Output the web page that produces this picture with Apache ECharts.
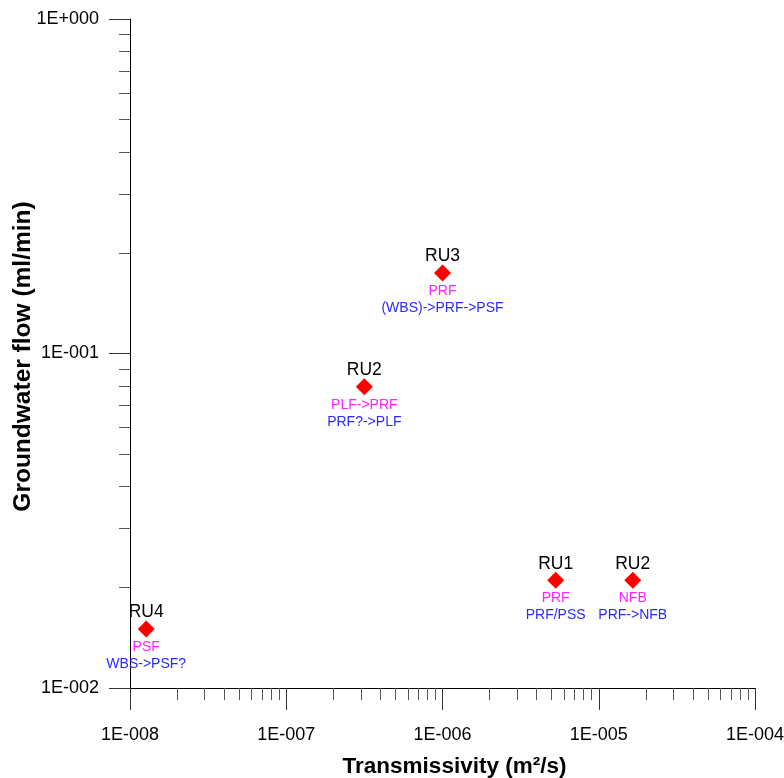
<!DOCTYPE html>
<html>
<head>
<meta charset="utf-8">
<script src="https://cdn.jsdelivr.net/npm/echarts@6/dist/echarts.min.js"></script>
<style>html,body{margin:0;padding:0;background:#fff;}#c{width:784px;height:778px;}</style>
</head>
<body>
<div id="c"></div>
<script>
// ---- data ----
var names = ['RU4', 'RU2', 'RU3', 'RU1', 'RU2'];
var transmissivity = [1.27e-8, 3.16e-7, 1.0e-6, 5.3e-6, 1.65e-5];
var groundwaterFlow = [0.0150, 0.0796, 0.174, 0.0210, 0.0210];
var flowType = ['PSF', 'PLF->PRF', 'PRF', 'PRF', 'NFB'];
var flowSequence = ['WBS->PSF?', 'PRF?->PLF', '(WBS)->PRF->PSF', 'PRF/PSS', 'PRF->NFB'];
var xTickLabels = ['1E-008', '1E-007', '1E-006', '1E-005', '1E-004'];
var yTickLabels = ['1E-002', '1E-001', '1E+000'];
var xMin = 1e-8, xMax = 1e-4, yMin = 1e-2, yMax = 1;

function minorTicks(lo, hi) {
  var out = [];
  for (var d = lo; d < hi * 0.999; d *= 10) {
    for (var k = 2; k <= 9; k++) out.push(+(k * d).toPrecision(3));
  }
  return out;
}
function labelFor(list, minExp) {
  return function (v) {
    var e = Math.round(Math.log10(v));
    return list[e - minExp] || '';
  };
}

var FONT = '"Liberation Sans", Arial, sans-serif';
var chart = echarts.init(document.getElementById('c'), null, {renderer: 'canvas'});

var points = names.map(function (n, i) {
  return {value: [transmissivity[i], groundwaterFlow[i]], idx: i};
});

chart.setOption({
  animation: false,
  backgroundColor: '#ffffff',
  grid: {left: 130, right: 29, top: 19, bottom: 90, containLabel: false, outerBoundsMode: 'none'},
  xAxis: [{
    type: 'log', logBase: 10, min: xMin, max: xMax, position: 'bottom',
    name: 'Transmissivity (m²/s)', nameLocation: 'middle', nameGap: 67, nameMoveOverlap: false,
    nameTextStyle: {fontFamily: FONT, fontSize: 22.5, fontWeight: 'bold', color: '#000',
      padding: [0, 0, 0, 24]},
    axisLine: {show: true, lineStyle: {color: '#000', width: 1}},
    axisTick: {show: true, inside: false, length: 22, lineStyle: {color: '#333', width: 1}},
    axisLabel: {show: true, margin: 38, fontFamily: FONT, fontSize: 18, color: '#000',
      formatter: labelFor(xTickLabels, -8)},
    splitLine: {show: false}, minorTick: {show: false}
  }, {
    type: 'log', logBase: 10, min: xMin, max: xMax, position: 'bottom',
    axisLine: {show: false},
    axisTick: {show: true, inside: false, length: 12, customValues: minorTicks(xMin, xMax),
      lineStyle: {color: '#555', width: 1}},
    axisLabel: {show: false}, splitLine: {show: false}
  }],
  yAxis: [{
    type: 'log', logBase: 10, min: yMin, max: yMax, position: 'left',
    name: 'Groundwater flow (ml/min)', nameLocation: 'middle', nameGap: 94, nameRotate: 90,
    nameMoveOverlap: false,
    nameTextStyle: {fontFamily: FONT, fontSize: 24.5, fontWeight: 'bold', color: '#000',
      padding: [0, 6, 0, 0]},
    axisLine: {show: true, lineStyle: {color: '#000', width: 1}},
    axisTick: {show: true, inside: false, length: 21, lineStyle: {color: '#333', width: 1}},
    axisLabel: {show: true, margin: 31, fontFamily: FONT, fontSize: 18, color: '#000',
      formatter: labelFor(yTickLabels, -2)},
    splitLine: {show: false}
  }, {
    type: 'log', logBase: 10, min: yMin, max: yMax, position: 'left',
    axisLine: {show: false},
    axisTick: {show: true, inside: false, length: 11, customValues: minorTicks(yMin, yMax),
      lineStyle: {color: '#555', width: 1}},
    axisLabel: {show: false}, splitLine: {show: false}
  }],
  series: [{
    type: 'scatter', xAxisIndex: 0, yAxisIndex: 0,
    symbol: 'diamond', symbolSize: 17,
    itemStyle: {color: '#ff0000', opacity: 1},
    data: points,
    label: {
      show: true, position: 'inside', offset: [0, 9],
      formatter: function (p) {
        var i = p.data.idx;
        return '{n|' + names[i] + '}\n{g| }\n{m|' + flowType[i] + '}\n{b|' + flowSequence[i] + '}';
      },
      rich: {
        n: {fontFamily: FONT, fontSize: 17.5, color: '#000', lineHeight: 18, align: 'center'},
        g: {fontSize: 10, lineHeight: 17},
        m: {fontFamily: FONT, fontSize: 14, color: '#ff22ff', lineHeight: 17, align: 'center'},
        b: {fontFamily: FONT, fontSize: 14, color: '#2a2aff', lineHeight: 17, align: 'center'}
      }
    },
    emphasis: {disabled: true}
  }]
});
</script>
</body>
</html>
